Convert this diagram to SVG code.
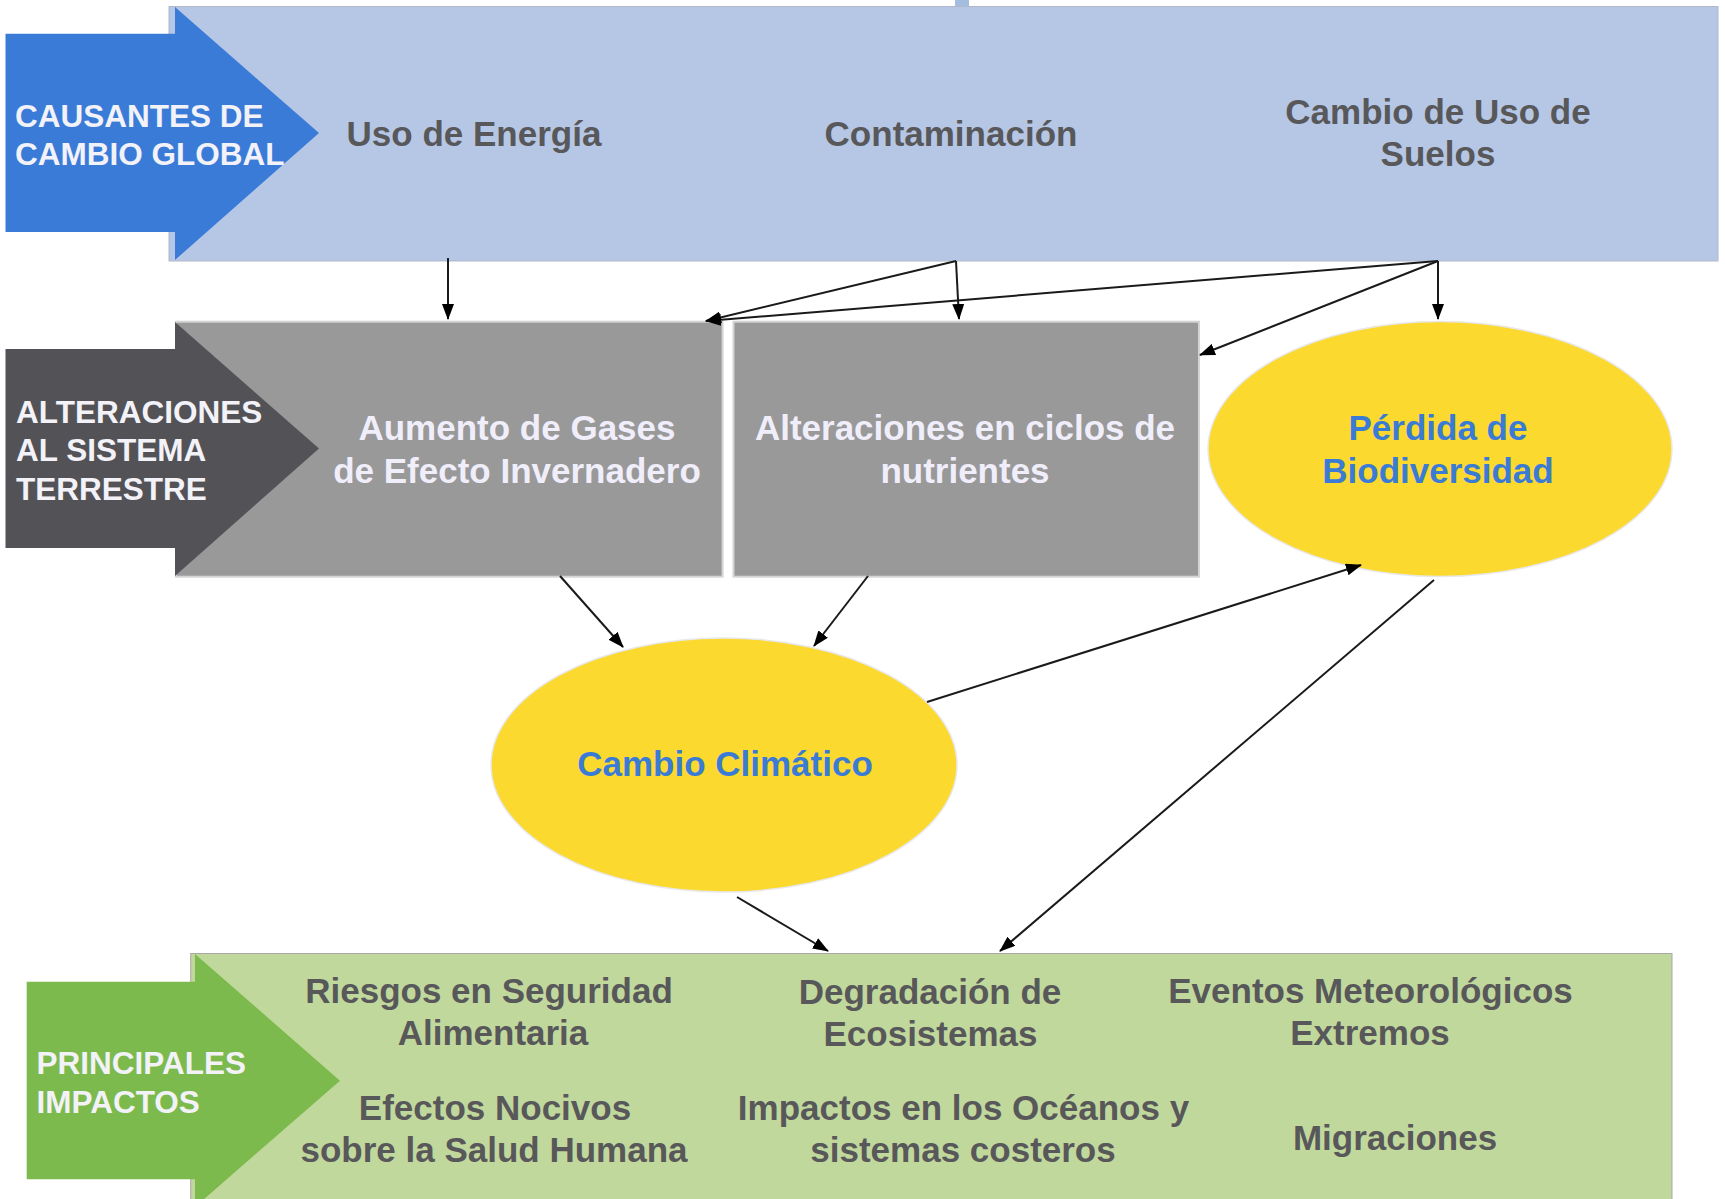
<svg xmlns="http://www.w3.org/2000/svg" width="1725" height="1199" viewBox="0 0 1725 1199">
<style>
text{font-family:"Liberation Sans",Arial,Helvetica,sans-serif;font-weight:bold}
.lbl{font-size:31.5px;fill:#F2F2F8}
.c{font-size:35px;fill:#58585A;text-anchor:middle}
.w{font-size:35px;fill:#F0EEFA;text-anchor:middle}
.b{font-size:35px;fill:#3A7BD5;text-anchor:middle}
.ell{fill:#FCD92E;stroke:#E8E8E8;stroke-width:1.5}
.gray{fill:#999999;stroke:#D4D4D4;stroke-width:2}
.con line{stroke:#1A1A1A;stroke-width:2;marker-end:url(#ah)}
</style>
<defs>
<marker id="ah" markerUnits="userSpaceOnUse" markerWidth="16" markerHeight="12" refX="15" refY="6" orient="auto">
<path d="M0,0 L16,6 L0,12 z" fill="#000"/>
</marker>
</defs>
<rect width="1725" height="1199" fill="#FFFFFF"/>

<g id="causantes">
<rect x="955" y="0" width="14" height="8" fill="#A4BCE0"/>
<rect x="169" y="6.5" width="1549" height="254.5" fill="#B5C7E5" stroke="#B0B8C8" stroke-width="1"/>
<polygon points="5.5,33.7 175,33.7 175,7 319,133 175,260 175,232 5.5,232" fill="#3A7BD8"/>
<text class="lbl" x="15" y="127">CAUSANTES DE</text>
<text class="lbl" x="15" y="165">CAMBIO GLOBAL</text>
</g>
<g id="uso-energia"><text class="c" x="474" y="146">Uso de Energía</text></g>
<g id="contaminacion"><text class="c" x="951" y="146">Contaminación</text></g>
<g id="cambio-uso-suelos"><text class="c" x="1438" y="124">Cambio de Uso de</text><text class="c" x="1438" y="166">Suelos</text></g>

<g id="gases">
<rect class="gray" x="176" y="321.7" width="546.6" height="255"/>
<text class="w" x="517" y="440">Aumento de Gases</text>
<text class="w" x="517" y="483">de Efecto Invernadero</text>
</g>
<g id="alteraciones-label">
<polygon points="5.5,349 175,349 175,322 319,448.5 175,576 175,548 5.5,548" fill="#535257"/>
<text class="lbl" x="16" y="423">ALTERACIONES</text>
<text class="lbl" x="16" y="461">AL SISTEMA</text>
<text class="lbl" x="16" y="500">TERRESTRE</text>
</g>
<g id="nutrientes">
<rect class="gray" x="733.5" y="321.7" width="465.5" height="255"/>
<text class="w" x="965" y="440">Alteraciones en ciclos de</text>
<text class="w" x="965" y="483">nutrientes</text>
</g>
<g id="biodiversidad">
<ellipse class="ell" cx="1440" cy="449" rx="232" ry="127.5"/>
<text class="b" x="1438" y="440">Pérdida de</text>
<text class="b" x="1438" y="483">Biodiversidad</text>
</g>
<g id="cambio-climatico">
<ellipse class="ell" cx="724" cy="765" rx="233" ry="127"/>
<text class="b" x="725" y="776">Cambio Climático</text>
</g>

<g id="impactos">
<rect x="190.7" y="953.5" width="1481.3" height="250" fill="#C1D89D" stroke="#A8A8A8" stroke-width="1"/>
<polygon points="26.7,981.7 195,981.7 195,954 340,1080.7 195,1207 195,1179.3 26.7,1179.3" fill="#7CBA4E"/>
<text class="lbl" x="36.5" y="1074">PRINCIPALES</text>
<text class="lbl" x="36.5" y="1112.7">IMPACTOS</text>
</g>
<g id="seguridad-alimentaria"><text class="c" x="489" y="1003">Riesgos en Seguridad</text><text class="c" x="493" y="1045">Alimentaria</text></g>
<g id="salud-humana"><text class="c" x="495" y="1119.5">Efectos Nocivos</text><text class="c" x="494" y="1161.5">sobre la Salud Humana</text></g>
<g id="degradacion"><text class="c" x="930" y="1004">Degradación de</text><text class="c" x="930.5" y="1046">Ecosistemas</text></g>
<g id="oceanos"><text class="c" x="963.5" y="1119.5">Impactos en los Océanos y</text><text class="c" x="963" y="1161.5">sistemas costeros</text></g>
<g id="eventos"><text class="c" x="1370.5" y="1003">Eventos Meteorológicos</text><text class="c" x="1370" y="1045">Extremos</text></g>
<g id="migraciones"><text class="c" x="1395" y="1150">Migraciones</text></g>

<g id="connectors" class="con">
<line x1="448" y1="258" x2="448" y2="319"/>
<line x1="956" y1="261" x2="706" y2="321"/>
<line x1="956" y1="261" x2="959" y2="319"/>
<line x1="1438" y1="261" x2="706" y2="321"/>
<line x1="1438" y1="261" x2="1200" y2="355"/>
<line x1="1438" y1="261" x2="1438" y2="319"/>
<line x1="560" y1="576" x2="623" y2="647"/>
<line x1="868" y1="576" x2="814" y2="646"/>
<line x1="927" y1="702" x2="1361" y2="565"/>
<line x1="1434" y1="580" x2="1000" y2="951"/>
<line x1="737" y1="897" x2="828" y2="951"/>
</g>
</svg>
